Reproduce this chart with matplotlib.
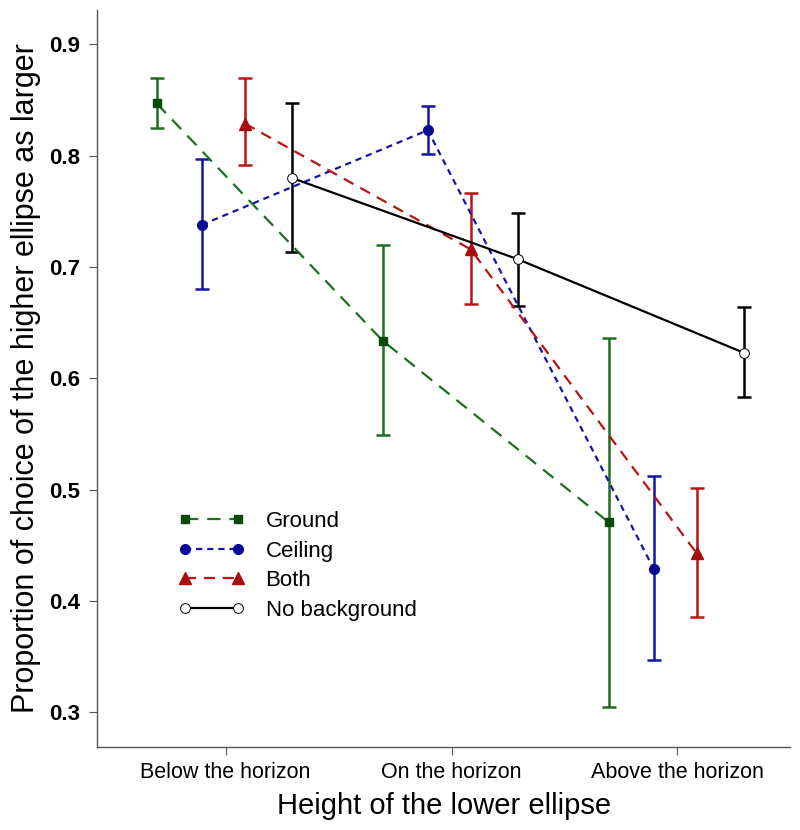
import matplotlib
matplotlib.use("Agg")
import matplotlib.pyplot as plt
import numpy as np

plt.rcParams['font.family'] = ['Liberation Sans', 'DejaVu Sans']

categories = ["Below the horizon", "On the horizon", "Above the horizon"]
series = ["Ground", "Ceiling", "Both", "No background"]

ground = [0.847, 0.634, 0.471]
ground_lo = [0.825, 0.549, 0.305]
ground_hi = [0.870, 0.720, 0.636]

ceiling = [0.738, 0.823, 0.429]
ceiling_lo = [0.680, 0.802, 0.347]
ceiling_hi = [0.797, 0.845, 0.512]

both = [0.829, 0.716, 0.443]
both_lo = [0.792, 0.667, 0.386]
both_hi = [0.870, 0.767, 0.502]

nobg = [0.780, 0.707, 0.623]
nobg_lo = [0.714, 0.665, 0.583]
nobg_hi = [0.847, 0.749, 0.664]

offsets = [-0.305, -0.105, 0.085, 0.295]

fig = plt.figure(figsize=(8, 8.3), dpi=100)
ax = fig.add_axes([0.121, 0.1, 0.867, 0.888])

x = np.arange(1, 4)
specs = [
    (ground, ground_lo, ground_hi, '#0a4a0a', '#1f6e1f', 's', 6, (0, (6, 4)), True),
    (ceiling, ceiling_lo, ceiling_hi, '#0a0a96', '#1414a8', 'o', 7, (0, (2.8, 2.2)), True),
    (both, both_lo, both_hi, '#a80c0c', '#b81414', '^', 8, (0, (5, 3.5)), True),
    (nobg, nobg_lo, nobg_hi, 'black', 'black', 'o', 7, '-', False),
]

handles = []
for (vals, lo, hi, mcol, lcol, mk, ms, ls, filled), off, name in zip(specs, offsets, series):
    xs = x + off
    vals = np.array(vals)
    yerr = np.array([vals - np.array(lo), np.array(hi) - vals])
    ax.errorbar(xs, vals, yerr=yerr, fmt='none', ecolor=lcol, elinewidth=1.8,
                capsize=5, capthick=1.8, zorder=2)
    h, = ax.plot(xs, vals, linestyle=ls, color=lcol, lw=1.6,
                 marker=mk, markersize=ms,
                 markerfacecolor=mcol if filled else 'white',
                 markeredgecolor=mcol, markeredgewidth=1 if filled else 0.7,
                 zorder=3, label=name)
    handles.append(h)

ax.set_xlim(0.43, 3.5)
ax.set_ylim(0.269, 0.931)
ax.set_xticks(x)
ax.set_xticklabels(categories, fontsize=15.5)
ax.set_yticks([0.3, 0.4, 0.5, 0.6, 0.7, 0.8, 0.9])
ax.set_yticklabels(['0.3', '0.4', '0.5', '0.6', '0.7', '0.8', '0.9'],
                   fontsize=16, fontweight='bold')
ax.tick_params(axis='both', direction='out', length=6, width=0.8, color='#555555')
ax.tick_params(axis='x', pad=5)
ax.tick_params(axis='y', pad=6)

for s in ['top', 'right']:
    ax.spines[s].set_visible(False)
for s in ['left', 'bottom']:
    ax.spines[s].set_color('#555555')
    ax.spines[s].set_linewidth(1.0)

ax.set_xlabel("Height of the lower ellipse", fontsize=21, labelpad=6)
ax.set_ylabel("Proportion of choice of the higher ellipse as larger", fontsize=22, labelpad=6)

leg = ax.legend(handles=handles, loc='upper left', bbox_to_anchor=(0.088, 0.347),
                frameon=False, fontsize=16, numpoints=2, handlelength=3.0,
                labelspacing=0.38, handletextpad=0.95)

fig.savefig("out.png", dpi=100)
